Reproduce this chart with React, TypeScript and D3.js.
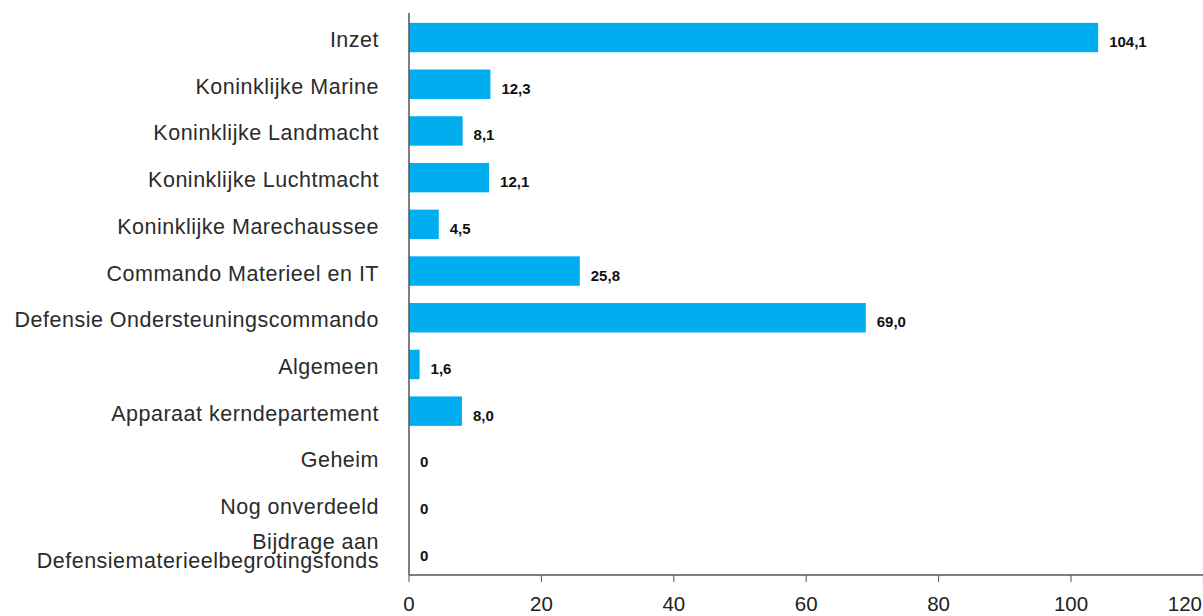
import { useEffect, useRef } from 'react';
import * as d3 from 'd3';

const categories = [
  'Inzet',
  'Koninklijke Marine',
  'Koninklijke Landmacht',
  'Koninklijke Luchtmacht',
  'Koninklijke Marechaussee',
  'Commando Materieel en IT',
  'Defensie Ondersteuningscommando',
  'Algemeen',
  'Apparaat kerndepartement',
  'Geheim',
  'Nog onverdeeld',
  'Bijdrage aan\nDefensiematerieelbegrotingsfonds',
];
const values = [104.1, 12.3, 8.1, 12.1, 4.5, 25.8, 69.0, 1.6, 8.0, 0, 0, 0];
const xTicks = [0, 20, 40, 60, 80, 100, 120];

export default function App() {
  const svgRef = useRef<SVGSVGElement>(null);

  useEffect(() => {
    if (!svgRef.current) return;
    const svg = d3.select(svgRef.current);
    svg.selectAll('*').remove();

    const left = 409;
    const right = 1203.4;
    const top = 13;
    const bottom = 575;
    const font = '"Liberation Sans", Arial, sans-serif';

    const x = d3.scaleLinear().domain([0, 120]).range([left, right]);
    const y = d3.scaleBand<string>()
      .domain(categories)
      .range([14.2, 574.6])
      .paddingInner(0.37)
      .paddingOuter(0.185);

    // Bars
    svg.append('g')
      .selectAll('rect')
      .data(values)
      .join('rect')
      .attr('x', x(0))
      .attr('y', (d, i) => y(categories[i]) || 0)
      .attr('width', d => x(d) - x(0))
      .attr('height', y.bandwidth())
      .attr('fill', '#00adee');

    // Value labels
    svg.append('g')
      .selectAll('text')
      .data(values)
      .join('text')
      .attr('x', d => x(d) + 11)
      .attr('y', (d, i) => (y(categories[i]) || 0) + y.bandwidth() / 2 + 9.5)
      .attr('font-family', font)
      .attr('font-size', 15)
      .attr('font-weight', 'bold')
      .attr('fill', '#111')
      .text(d => (d === 0 ? '0' : d.toFixed(1).replace('.', ',')));

    // Category labels
    const labels = svg.append('g')
      .selectAll('text')
      .data(categories)
      .join('text')
      .attr('text-anchor', 'end')
      .attr('font-family', font)
      .attr('font-size', 21.5)
      .attr('letter-spacing', 0.5)
      .attr('fill', '#2b2b2b');
    labels.each(function (d) {
      const lines = d.split('\n');
      const cy = (y(d) || 0) + y.bandwidth() / 2;
      const off = lines.length > 1 ? 7 : 9.5;
      const t = d3.select(this);
      lines.forEach((ln, k) => {
        t.append('tspan')
          .attr('x', 379)
          .attr('y', cy + off + (k - (lines.length - 1) / 2) * 19)
          .text(ln);
      });
    });

    // Y axis line
    svg.append('line')
      .attr('x1', left).attr('x2', left)
      .attr('y1', top).attr('y2', bottom)
      .attr('stroke', '#555').attr('stroke-width', 1.5);

    // X axis
    svg.append('line')
      .attr('x1', left).attr('x2', right)
      .attr('y1', bottom).attr('y2', bottom)
      .attr('stroke', '#555').attr('stroke-width', 1.5);

    const ticks = svg.append('g').selectAll('g').data(xTicks).join('g');
    ticks.append('line')
      .attr('x1', d => x(d)).attr('x2', d => x(d))
      .attr('y1', bottom).attr('y2', bottom + 7)
      .attr('stroke', '#555').attr('stroke-width', 1);
    ticks.append('text')
      .attr('x', d => Math.min(x(d), 1202))
      .attr('y', 611)
      .attr('text-anchor', d => (x(d) >= 1190 ? 'end' : 'middle'))
      .attr('font-family', font)
      .attr('font-size', 20.5)
      .attr('fill', '#222')
      .text(d => d);
  }, []);

  return (
    <svg
      ref={svgRef}
      width={1203}
      height={616}
      style={{ position: 'absolute', left: 0, top: 0, background: '#fff' }}
    />
  );
}
